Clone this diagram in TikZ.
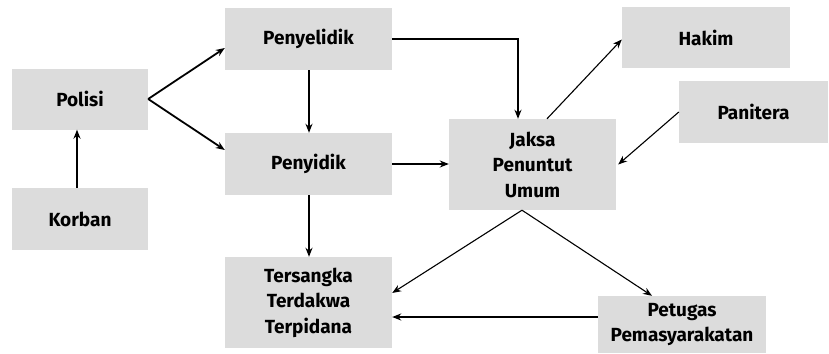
\documentclass[tikz,border=0pt]{standalone}
\usepackage{fontspec}
\setmainfont{Fira Sans}
\usetikzlibrary{arrows.meta,calc}
\definecolor{boxgray}{HTML}{DCDCDC}
\tikzset{
  box/.style={fill=boxgray, draw=none, align=center, font=\bfseries\fontsize{19}{25.5}\selectfont, inner sep=0pt},
  arr/.style={-{Stealth[length=9pt,width=7pt]}, line width=1.8pt},
  thinarr/.style={-{Stealth[length=9pt,width=7pt]}, line width=1.1pt}
}
\begin{document}
\begin{tikzpicture}[x=1pt,y=-1pt]
\useasboundingbox (0,0) rectangle (829,353);
\node[box, minimum width=136pt, minimum height=61pt] (polisi) at (80,99) {Polisi};
\node[box, minimum width=136pt, minimum height=62pt] (korban) at (80,219) {Korban};
\node[box, minimum width=167pt, minimum height=62pt] (penyelidik) at (308.5,39) {Penyelidik};
\node[box, minimum width=167pt, minimum height=62pt] (penyidik) at (308.5,164) {Penyidik};
\node[box, minimum width=167pt, minimum height=91pt] (tersangka) at (308.5,302.5) {Tersangka\\Terdakwa\\Terpidana};
\node[box, minimum width=167pt, minimum height=91pt] (jaksa) at (532.5,164.5) {Jaksa\\Penuntut\\Umum};
\node[box, minimum width=168pt, minimum height=61pt] (hakim) at (706,37.5) {Hakim};
\node[box, minimum width=149pt, minimum height=62pt] (panitera) at (753.5,112) {Panitera};
\node[box, minimum width=168pt, minimum height=57pt] (petugas) at (682,324.5) {Petugas\\Pemasyarakatan};

\draw[arr] ([xshift=-3pt]korban.north) -- ([xshift=-3pt]polisi.south);
\draw[arr] (polisi.east) -- ([yshift=-9pt]penyelidik.west);
\draw[arr] (polisi.east) -- ([yshift=14pt]penyidik.west);
\draw[arr] ([xshift=0.5pt]penyelidik.south) -- ([xshift=0.5pt]penyidik.north);
\draw[arr] (penyelidik.east) -| ([xshift=-14.5pt]jaksa.north);
\draw[arr] (penyidik.east) -- (penyidik.east -| jaksa.west);
\draw[arr] ([xshift=0.5pt]penyidik.south) -- ([xshift=0.5pt]tersangka.north);
\draw[thinarr] ([xshift=14.5pt]jaksa.north) -- ([yshift=-2pt]hakim.west);
\draw[thinarr] (panitera.west) -- ([xshift=2pt]jaksa.east);
\draw[thinarr] ([xshift=-10.5pt]jaksa.south) -- ([yshift=9.5pt]tersangka.east);
\draw[thinarr] ([xshift=-10.5pt]jaksa.south) -- ([xshift=-30pt]petugas.north);
\coordinate (pl) at ($(petugas.west)+(0,-7.5)$);
\draw[arr] (pl) -- (pl -| tersangka.east);
\end{tikzpicture}
\end{document}
